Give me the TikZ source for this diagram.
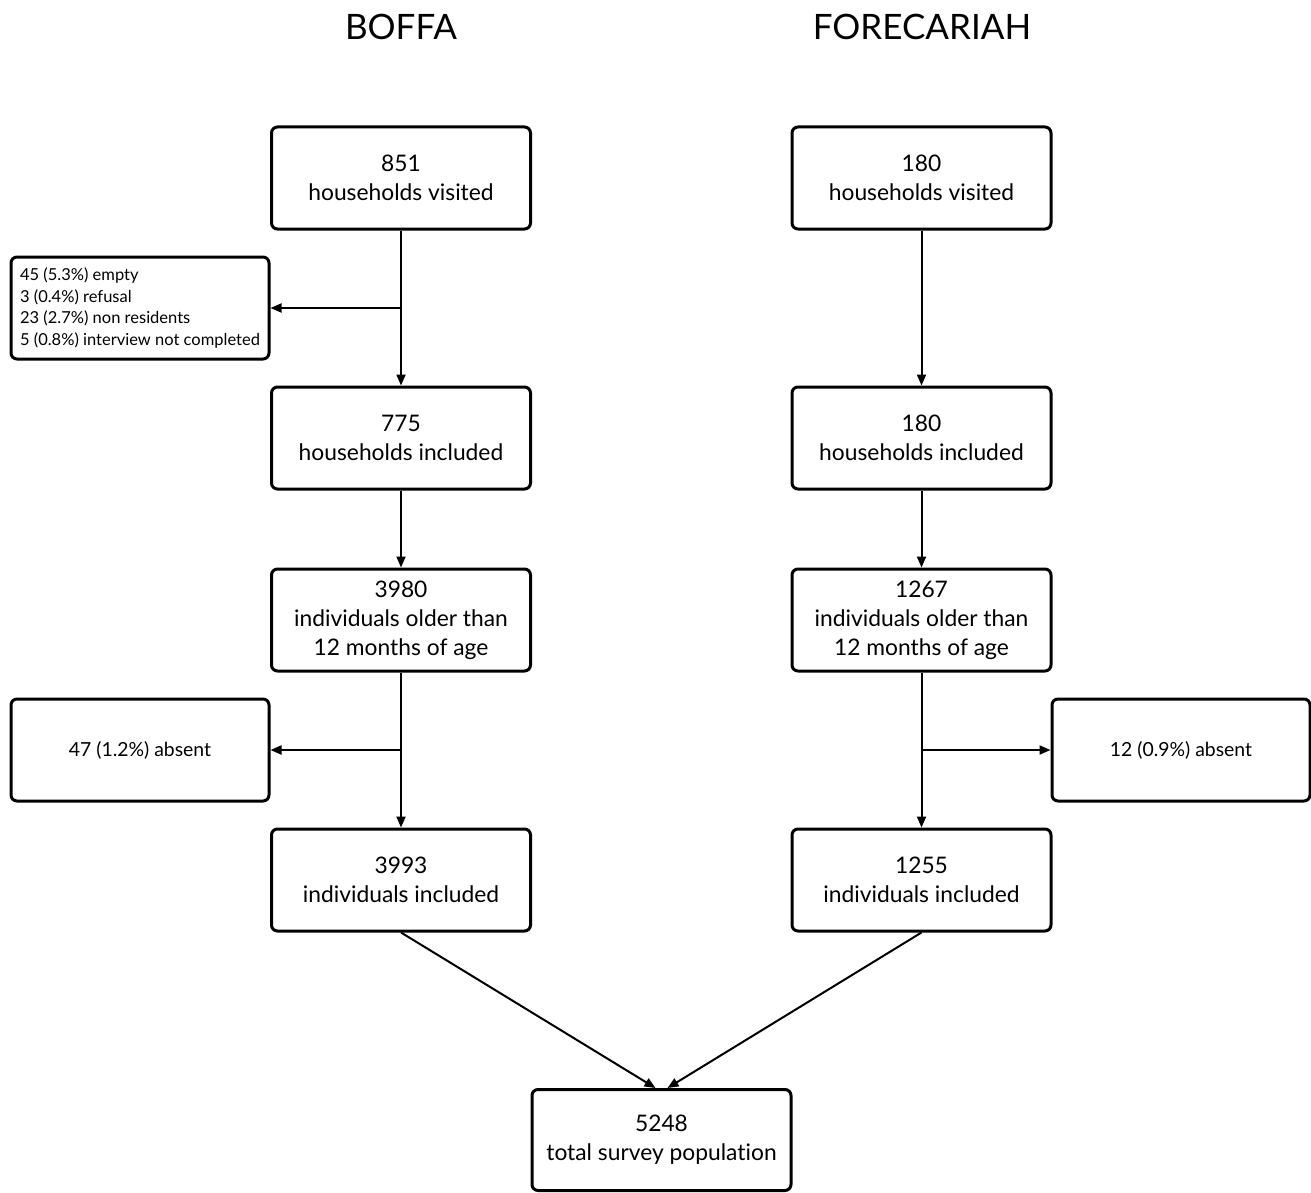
\documentclass[tikz,border=0pt]{standalone}
\usepackage{fontspec}
\setmainfont{Lato}[Ligatures={NoCommon}]
\usetikzlibrary{arrows.meta}
\begin{document}
\begin{tikzpicture}[x=1pt,y=-1pt,
  box/.style={draw,line width=3pt,rounded corners=6pt,minimum width=259pt,minimum height=102pt,align=center,inner sep=0pt,font=\fontsize{22.8}{29}\selectfont},
  sbox/.style={draw,line width=3pt,rounded corners=6pt,minimum width=258pt,minimum height=102pt,inner sep=0pt,align=left,font=\fontsize{16.5}{21.8}\selectfont},
  abox/.style={draw,line width=3pt,rounded corners=6pt,minimum width=258pt,minimum height=102pt,inner sep=0pt,align=center,font=\fontsize{19.4}{24}\selectfont},
  ttl/.style={font=\fontsize{35}{40}\selectfont},
  arr/.style={line width=2pt,-{Triangle[length=11pt,width=9pt]}}]
\useasboundingbox (0,0) rectangle (1311,1193);
\node[ttl] (t1) at (401,27) {BOFFA};
\node[ttl] (t2) at (922,27) {FORECARIAH};
% left column
\node[box] (a1) at (401,178) {851\\households visited};
\node[box] (a2) at (401,438) {775\\households included};
\node[box] (a3) at (401,620) {3980\\individuals older than\\12 months of age};
\node[box] (a4) at (401,880) {3993\\individuals included};
\node[sbox] (ex1) at (140,308) {45 (5.3\%) empty\\3 (0.4\%) refusal\\23 (2.7\%) non residents\\5 (0.8\%) interview not completed};
\node[abox] (ex2) at (140,750) {47 (1.2\%) absent};
% right column
\node[box] (b1) at (921.5,178) {180\\households visited};
\node[box] (b2) at (921.5,438) {180\\households included};
\node[box] (b3) at (921.5,620) {1267\\individuals older than\\12 months of age};
\node[box] (b4) at (921.5,880) {1255\\individuals included};
\node[abox] (ex3) at (1181,750) {12 (0.9\%) absent};
% total
\node[box,minimum height=101pt] (tot) at (661.5,1140) {5248\\total survey population};
% connectors
\draw[arr] (a1) -- (a2);
\draw[arr] (a2) -- (a3);
\draw[arr] (a3) -- (a4);
\draw[arr] (b1) -- (b2);
\draw[arr] (b2) -- (b3);
\draw[arr] (b3) -- (b4);
\draw[arr] (401,308) coordinate (c1) -- (ex1.east);
\draw[arr] (401,750) coordinate (c2) -- (ex2.east);
\draw[arr] (921.5,750) coordinate (c3) -- (ex3.west);
\draw[arr] (a4.south) -- ([xshift=-6pt]tot.north);
\draw[arr] (b4.south) -- ([xshift=6pt]tot.north);
\end{tikzpicture}
\end{document}
